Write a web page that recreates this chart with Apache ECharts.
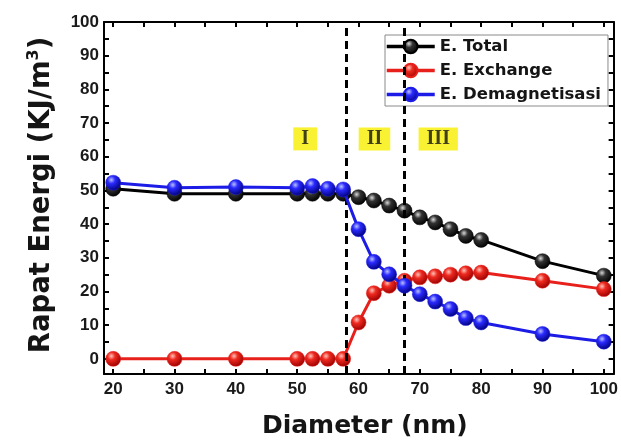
<!DOCTYPE html>
<html>
<head>
<meta charset="utf-8">
<script src="https://cdn.jsdelivr.net/npm/echarts@6/dist/echarts.min.js"></script>
<style>
  html, body { margin: 0; padding: 0; background: #ffffff; }
  #chart { width: 621px; height: 444px; }
</style>
</head>
<body>
<div id="chart"></div>
<script>
// Energy density vs particle diameter
const diameter  = [20, 30, 40, 50, 52.5, 55, 57.5, 60, 62.5, 65, 67.5, 70, 72.5, 75, 77.5, 80, 90, 100];
const eTotal    = [50.5, 49, 49, 49, 49, 49, 49, 48, 47, 45.5, 44, 42, 40.5, 38.5, 36.5, 35.3, 29, 24.7];
const eExchange = [0, 0, 0, 0, 0, 0, 0, 10.8, 19.5, 21.7, 23.2, 24.2, 24.5, 25, 25.4, 25.6, 23.2, 20.7];
const eDemag    = [52.3, 50.8, 51, 50.8, 51.3, 50.5, 50.3, 38.5, 28.8, 25.1, 21.7, 19.2, 17, 14.8, 12.1, 10.8, 7.4, 5.1];

const seriesNames = ['E. Total', 'E. Exchange', 'E. Demagnetisasi'];

// regime boundaries (nm)
const boundaries = [58, 67.5];

// regime labels and where they sit, in data units
const regionNames = ['I', 'II', 'III'];
const regionX = [51.3, 62.6, 73.0];
const regionY = [65.3, 65.3, 65.3];

const xTicks = [20, 25, 30, 35, 40, 45, 50, 55, 60, 65, 70, 75, 80, 85, 90, 95, 100];
const xLabels = [20, 30, 40, 50, 60, 70, 80, 90, 100];
const yTicks = [0, 5, 10, 15, 20, 25, 30, 35, 40, 45, 50, 55, 60, 65, 70, 75, 80, 85, 90, 95, 100];
const yLabels = [0, 10, 20, 30, 40, 50, 60, 70, 80, 90, 100];

const X_MIN = 18.5, X_MAX = 101.6;
const Y_MIN = -4.5, Y_MAX = 100;

const pairs = (ys) => diameter.map((d, i) => [d, ys[i]]);

function ball(light, mid, dark) {
  return {
    type: 'radial', x: 0.38, y: 0.32, r: 0.7,
    colorStops: [
      { offset: 0, color: light },
      { offset: 0.35, color: mid },
      { offset: 1, color: dark }
    ]
  };
}

const palette = [
  { line: '#000000', fill: ball('#d8d8d8', '#333333', '#000000') },
  { line: '#e8201c', fill: ball('#ffc2b8', '#ee2a20', '#9a0000') },
  { line: '#1c1ce6', fill: ball('#b8c0ff', '#2a2aff', '#00007a') }
];

const tickFont = { fontFamily: 'Liberation Sans', fontWeight: 'bold', fontSize: 17, color: '#1a1a1a' };

function frameAxis(extra) {
  return Object.assign({
    type: 'value',
    axisLine: { show: true, onZero: false, lineStyle: { color: '#000', width: 2 } },
    splitLine: { show: false }
  }, extra);
}

const dataSeries = [eTotal, eExchange, eDemag].map((ys, k) => ({
  name: seriesNames[k],
  type: 'line',
  data: pairs(ys),
  symbol: 'circle',
  symbolSize: 15,
  lineStyle: { color: palette[k].line, width: 3 },
  itemStyle: { color: palette[k].fill, borderColor: palette[k].line, borderWidth: 0.5 },
  z: 3 + k
}));

dataSeries[0].markLine = {
  silent: true,
  symbol: 'none',
  label: { show: false },
  lineStyle: { color: '#000', width: 3, type: [8, 5] },
  data: boundaries.map(b => ({ xAxis: b }))
};

const regionSeries = {
  name: 'regions',
  type: 'scatter',
  symbolSize: 1,
  itemStyle: { color: 'rgba(0,0,0,0)' },
  silent: true,
  z: 10,
  data: regionNames.map((n, i) => ({ value: [regionX[i], regionY[i]], name: n })),
  label: {
    show: true,
    position: 'inside',
    formatter: p => p.name,
    fontFamily: 'Liberation Serif',
    fontWeight: 'bold',
    fontSize: 20,
    color: '#111',
    backgroundColor: '#f6ef00',
    padding: [2, 8, 1, 8]
  }
};

const chart = echarts.init(document.getElementById('chart'), null, { renderer: 'canvas' });

chart.setOption({
  animation: false,
  backgroundColor: '#ffffff',
  grid: { left: 104, right: 4, top: 22, bottom: 69, containLabel: false },
  legend: {
    data: seriesNames,
    orient: 'vertical',
    left: 385,
    top: 35,
    padding: [3, 7, 3, 0],
    itemGap: 7,
    itemWidth: 48,
    itemHeight: 17,
    lineStyle: { width: 3.5 },
    backgroundColor: 'rgba(255,255,255,0.92)',
    borderColor: '#8a8a8a',
    borderWidth: 1,
    textStyle: { fontFamily: 'DejaVu Sans', fontWeight: 'bold', fontSize: 16.5, color: '#151515' }
  },
  xAxis: [
    frameAxis({
      min: X_MIN, max: X_MAX, position: 'bottom',
      name: 'Diameter (nm)',
      nameLocation: 'middle',
      nameGap: 40,
      nameTextStyle: { fontFamily: 'DejaVu Sans', fontWeight: 'bold', fontSize: 25, color: '#151515', padding: [0, 0, 0, 12] },
      axisTick: { show: true, inside: true, length: 5, customValues: xTicks, lineStyle: { color: '#000', width: 2 } },
      axisLabel: Object.assign({ show: true, margin: 7, customValues: xLabels }, tickFont)
    }),
    frameAxis({
      min: X_MIN, max: X_MAX, position: 'top',
      axisTick: { show: true, inside: true, length: 5, customValues: xTicks, lineStyle: { color: '#000', width: 2 } },
      axisLabel: { show: false }
    })
  ],
  yAxis: [
    frameAxis({
      min: Y_MIN, max: Y_MAX, position: 'left',
      name: 'Rapat Energi (KJ/m{sup|3})',
      nameLocation: 'middle',
      nameGap: 46,
      nameRotate: 90,
      nameTextStyle: {
        fontFamily: 'DejaVu Sans', fontWeight: 'bold', fontSize: 27.5, color: '#151515', lineHeight: 32,
        padding: [0, 0, 0, 6],
        rich: { sup: { fontFamily: 'DejaVu Sans', fontWeight: 'bold', fontSize: 16, color: '#151515', verticalAlign: 'top', lineHeight: 32 } }
      },
      axisTick: { show: true, inside: true, length: 5, customValues: yTicks, lineStyle: { color: '#000', width: 2 } },
      axisLabel: Object.assign({ show: true, margin: 5, customValues: yLabels }, tickFont)
    }),
    frameAxis({
      min: Y_MIN, max: Y_MAX, position: 'right',
      axisTick: { show: true, inside: true, length: 5, customValues: yTicks, lineStyle: { color: '#000', width: 2 } },
      axisLabel: { show: false }
    })
  ],
  series: dataSeries.concat([regionSeries])
});
</script>
</body>
</html>
